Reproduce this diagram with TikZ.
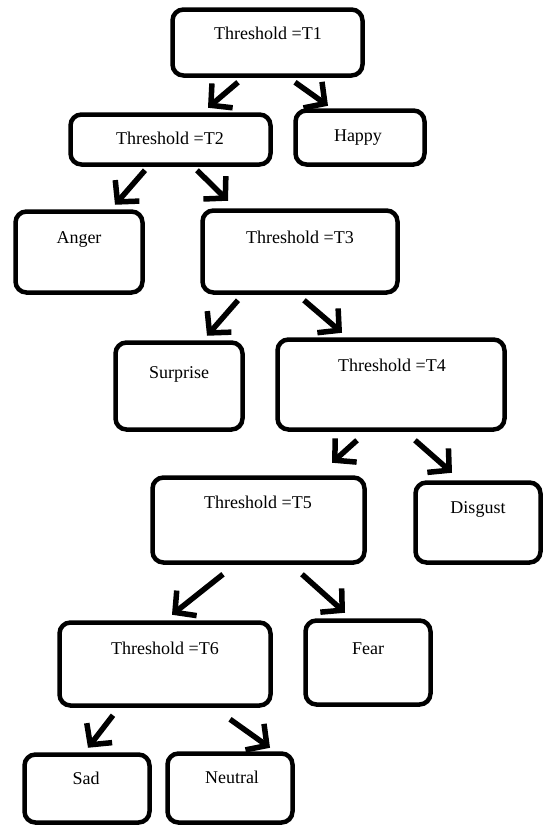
\documentclass[tikz,border=0pt]{standalone}
\usepackage{fontspec}
\setmainfont{Liberation Serif}
\usetikzlibrary{arrows.meta}
\begin{document}
\begin{tikzpicture}[x=1pt,y=-1pt,
  box/.style 2 args={draw, line width=4.5pt, rounded corners=11pt, minimum width=#1pt, minimum height=#2pt, inner sep=0pt},
  lbl/.style={anchor=base, inner sep=0pt, font=\fontsize{18}{20}\selectfont},
  arr/.style={line width=5.5pt, -{Straight Barb[length=15pt,width=32pt]}}]
\useasboundingbox (0,0) rectangle (545,828);
% boxes
\node[box={190}{66}]  (T1) at (267.5,42.5) {};
\node[box={129}{54}]  (Happy) at (360,137.5) {};
\node[box={200}{50}]  (T2) at (170.5,139.5) {};
\node[box={127}{81}]  (Anger) at (79,252) {};
\node[box={195}{82}]  (T3) at (300,251.5) {};
\node[box={127}{87}]  (Surprise) at (179,386) {};
\node[box={227}{90}]  (T4) at (391,384.5) {};
\node[box={212}{85}]  (T5) at (258.5,520) {};
\node[box={125}{80}]  (Disgust) at (478,522.5) {};
\node[box={211}{83}]  (T6) at (165,664) {};
\node[box={125}{84}]  (Fear) at (368,662.5) {};
\node[box={125}{68}]  (Sad) at (87,788.5) {};
\node[box={125}{69}]  (Neutral) at (230,788) {};
% labels
\node[lbl] (T1t) at (268,39) {Threshold =T1};
\node[lbl] (Happyt) at (358,141) {Happy};
\node[lbl] (T2t) at (170,144) {Threshold =T2};
\node[lbl] (Angert) at (79,243) {Anger};
\node[lbl] (T3t) at (300,243) {Threshold =T3};
\node[lbl] (Surpriset) at (179,378) {Surprise};
\node[lbl] (T4t) at (392,371) {Threshold =T4};
\node[lbl] (T5t) at (258,508) {Threshold =T5};
\node[lbl] (Disgustt) at (478,513) {Disgust};
\node[lbl] (T6t) at (165,654) {Threshold =T6};
\node[lbl] (Feart) at (368,654) {Fear};
\node[lbl] (Sadt) at (86,784) {Sad};
\node[lbl] (Neutralt) at (232,783) {Neutral};
% arrows
\draw[arr] ([shift={(-29.5,4.5)}]T1.south) -- ([shift={(37.5,-4.5)}]T2.north);
\draw[arr] ([shift={(27.5,4.5)}]T1.south) -- ([shift={(-32,-2.5)}]Happy.north);
\draw[arr] ([shift={(-25.5,3.5)}]T2.south) -- ([shift={(36,-4.5)}]Anger.north);
\draw[arr] ([shift={(26.5,3.5)}]T2.south) -- ([shift={(-72,-7.5)}]T3.north);
\draw[arr] ([shift={(-62,5.5)}]T3.south) -- ([shift={(28,-4.5)}]Surprise.north);
\draw[arr] ([shift={(4,5.5)}]T3.south) -- ([shift={(-49,-4.5)}]T4.north);
\draw[arr] ([shift={(-34,8.5)}]T4.south) -- ([shift={(73.5,-12.5)}]T5.north);
\draw[arr] ([shift={(24,8.5)}]T4.south) -- ([shift={(-26,-7.5)}]Disgust.north);
\draw[arr] ([shift={(-35.5,9.5)}]T5.south) -- ([shift={(7,-5.5)}]T6.north);
\draw[arr] ([shift={(43.5,9.5)}]T5.south) -- ([shift={(-23,-5.5)}]Fear.north);
\draw[arr] ([shift={(-52,7.5)}]T6.south) -- ([shift={(1,-4.5)}]Sad.north);
\draw[arr] ([shift={(65,11.5)}]T6.south) -- ([shift={(40,-3.5)}]Neutral.north);
\end{tikzpicture}
\end{document}
